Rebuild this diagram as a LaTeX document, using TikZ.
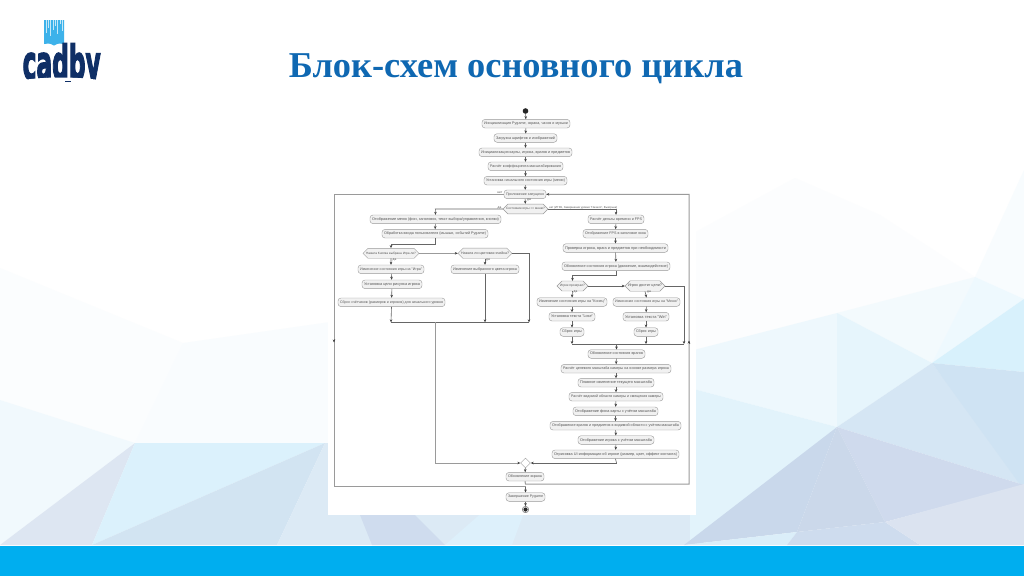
\documentclass[tikz,border=0pt]{standalone}
\usepackage{fontspec}
\usepackage{graphicx}
\setmainfont{Liberation Sans}
\newfontfamily\titlefont{Liberation Serif}
\newfontfamily\logofont[BoldFeatures={FakeBold=3.5}]{DejaVu Sans}
\usetikzlibrary{arrows.meta,shapes.geometric,shapes.misc}
\definecolor{bandblue}{HTML}{00AEEF}
\definecolor{titleblue}{HTML}{0F68B2}
\definecolor{logonavy}{HTML}{0F2F66}
\definecolor{logosky}{HTML}{3DB2EA}
\definecolor{boxfill}{HTML}{F1F1F1}
\definecolor{boxline}{HTML}{999999}
\definecolor{inktext}{HTML}{555555}
\definecolor{linkline}{HTML}{666666}
\definecolor{loopline}{HTML}{9A9A9A}
\tikzset{
  actbox/.style={draw=boxline,fill=boxfill,line width=.4pt,rounded corners=3pt,minimum height=8.6pt,inner sep=0pt,text=inktext},
  decbox/.style={draw=boxline,fill=boxfill,line width=.4pt,chamfered rectangle,chamfered rectangle xsep=2.6pt,chamfered rectangle ysep=3.5pt,minimum height=7pt,inner sep=0pt,text=inktext},
  mergedot/.style={draw=boxline,fill=white,line width=.4pt,diamond,minimum width=10pt,minimum height=10pt,inner sep=0pt},
  dotnode/.style={circle,fill=black!85,inner sep=0pt,minimum size=5.6pt},
  ringnode/.style={circle,draw=black!55,fill=white,line width=.5pt,inner sep=0pt,minimum size=6.4pt},
  arr/.style={draw=linkline,line width=.6pt,-{Stealth[length=3pt,width=2.6pt,color=black!75]}},
  bare/.style={draw=linkline,line width=.6pt},
  looparr/.style={draw=loopline,line width=1pt,-{Stealth[length=3pt,width=2.6pt,color=black!75]}},
  loopbare/.style={draw=loopline,line width=1pt},
  small/.style={inner sep=0pt,text=inktext,font=\fontsize{3.2}{3.2}\selectfont},
  poly/.style={draw=none}
}
% name, x1, x2, y, text
\newcommand{\actn}[5]{%
  \pgfmathsetmacro{\cxv}{(#2+#3)/2}\pgfmathsetmacro{\wv}{#3-#2}\pgfmathsetmacro{\twv}{#3-#2-4}%
  \node[actbox,minimum width=\wv pt] (#1) at (\cxv,#4) {\resizebox{\twv pt}{!}{\fontsize{4}{4}\selectfont #5}};}
\newcommand{\decn}[5]{%
  \pgfmathsetmacro{\cxv}{(#2+#3)/2}\pgfmathsetmacro{\wv}{#3-#2}\pgfmathsetmacro{\twv}{#3-#2-6}%
  \node[decbox,minimum width=\wv pt] (#1) at (\cxv,#4) {\resizebox{\twv pt}{!}{\fontsize{4}{4}\selectfont #5}};}
\begin{document}
\begin{tikzpicture}[x=1pt,y=-1pt]
\useasboundingbox (0,0) rectangle (1024,576);
\fill[white] (0,0) rectangle (1024,576);
% background polygons: left
\fill[poly,color={rgb,255:red,251;green,253;blue,254}] (0,268)--(183,343)--(135,443)--(0,400)--cycle;
\fill[poly,color={rgb,255:red,241;green,249;blue,253}] (0,400)--(135,443)--(0,545)--cycle;
\fill[poly,color={rgb,255:red,249;green,252;blue,254}] (183,343)--(330,322)--(328,443)--(135,443)--cycle;
\fill[poly,color={rgb,255:red,221;green,230;blue,242}] (135,443)--(92,545)--(0,545)--cycle;
\fill[poly,color={rgb,255:red,219;green,241;blue,252}] (135,443)--(325,443)--(92,545)--cycle;
\fill[poly,color={rgb,255:red,210;green,228;blue,242}] (325,443)--(92,545)--(277,545)--cycle;
\fill[poly,color={rgb,255:red,220;green,234;blue,245}] (325,443)--(330,443)--(330,545)--(277,545)--cycle;
% bottom middle
\fill[poly,color={rgb,255:red,220;green,234;blue,245}] (328,500)--(700,500)--(700,545)--(328,545)--cycle;
\fill[poly,color={rgb,255:red,207;green,220;blue,238}] (358,510)--(410,510)--(445,545)--(372,545)--cycle;
\fill[poly,color={rgb,255:red,221;green,240;blue,251}] (445,545)--(485,510)--(525,510)--(512,545)--cycle;
% right
\fill[poly,color={rgb,255:red,252;green,253;blue,254}] (690,235)--(795,178)--(880,215)--(975,277)--(837,313)--(690,351)--cycle;
\fill[poly,color={rgb,255:red,248;green,252;blue,254}] (975,277)--(1024,170)--(1024,299)--cycle;
\fill[poly,color={rgb,255:red,238;green,248;blue,253}] (690,351)--(837,313)--(837,427)--(690,388)--cycle;
\fill[poly,color={rgb,255:red,243;green,250;blue,253}] (837,313)--(975,277)--(932,363)--cycle;
\fill[poly,color={rgb,255:red,230;green,245;blue,252}] (837,313)--(932,363)--(837,427)--cycle;
\fill[poly,color={rgb,255:red,238;green,249;blue,254}] (975,277)--(1024,299)--(932,363)--cycle;
\fill[poly,color={rgb,255:red,216;green,241;blue,252}] (1024,299)--(1024,372)--(932,363)--cycle;
\fill[poly,color={rgb,255:red,226;green,243;blue,251}] (690,388)--(837,427)--(690,545)--cycle;
\fill[poly,color={rgb,255:red,213;green,230;blue,244}] (837,427)--(932,363)--(1024,485)--cycle;
\fill[poly,color={rgb,255:red,207;green,227;blue,243}] (932,363)--(1024,372)--(1024,490)--cycle;
\fill[poly,color={rgb,255:red,207;green,218;blue,237}] (837,427)--(1024,485)--(885,522)--cycle;
\fill[poly,color={rgb,255:red,203;green,216;blue,234}] (837,427)--(885,522)--(797,532)--cycle;
\fill[poly,color={rgb,255:red,201;green,216;blue,235}] (684,545)--(837,427)--(797,532)--cycle;
\fill[poly,color={rgb,255:red,219;green,238;blue,249}] (684,545)--(797,532)--(787,545)--cycle;
\fill[poly,color={rgb,255:red,206;green,220;blue,238}] (797,532)--(885,522)--(920,545)--(787,545)--cycle;
\fill[poly,color={rgb,255:red,219;green,227;blue,240}] (885,522)--(1024,484)--(1024,545)--(920,545)--cycle;
% band
\fill[bandblue] (0,545.5) rectangle (1024,576);
% white sheet
\fill[white] (328,100) rectangle (696,515);
% logo
\fill[logosky] (44,20) -- (64,20) -- (64,44) .. controls (58,43) and (56,44) .. (54,45.5) .. controls (52,44) and (50,43) .. (44,44) -- cycle;
\foreach \sx/\sl in {46/33,48.5/28,50.5/36,53/30,55/26,57.5/34,60/24,62/31}{\draw[white,opacity=.7,line width=.6pt] (\sx,20) -- (\sx,\sl);}
\node[inner sep=0pt,text=logonavy,anchor=base west] (logo) at (22.5,79.5) {\resizebox{78pt}{36pt}{\logofont\bfseries cadby}};
\fill[white] (20,80.5) .. controls (45,76.5) and (75,76.5) .. (103,80.5) -- (103,96) -- (20,96) -- cycle;
\fill[logonavy] (65,81.4) rectangle (71,82.4);
% title
\node[inner sep=0pt,text=titleblue,anchor=base] (title) at (516,77) {\resizebox{454pt}{!}{\titlefont\bfseries\fontsize{33}{33}\selectfont Блок-схем основного цикла}};
% flow: top
\node[dotnode] (start) at (525.5,111) {};
\actn{n1}{482}{570}{123.7}{Инициализация Pygame, экрана, часов и музыки}
\actn{n2}{494}{557}{138}{Загрузка шрифтов и изображений}
\actn{n3}{479}{572}{152.3}{Инициализация карты, игрока, врагов и предметов}
\actn{n4}{488}{563}{166.3}{Расчёт коэффициента масштабирования}
\actn{n5}{484}{567}{180.7}{Установка начального состояния игры (меню)}
\actn{loop}{504}{546}{194.3}{Приложение запущено}
\decn{d0}{503}{548}{209}{Состояние игры == меню?}
% left branch
\actn{l1}{370}{501}{219.3}{Отображение меню (фон, заголовок, текст выбора/управления, кнопки)}
\actn{l2}{382}{488}{233.7}{Обработка ввода пользователя (мышью, событий Pygame)}
\decn{dl1}{363}{419}{253.3}{Нажата Кнопка выбрана Игра ли?}
\decn{dl2}{458}{512}{253.3}{Нажата ли цветовая ячейка?}
\actn{l3}{358}{424}{269.3}{Изменение состояния игры на "Игра"}
\actn{l4}{362}{422}{284.3}{Установка цели рисунка игрока}
\actn{l5}{338}{445}{302.3}{Сброс счётчиков (размеров и игроков) для начального уровня}
\actn{l6}{451}{519}{269.3}{Изменение выбранного цвета игрока}
% right branch
\actn{r1}{588}{644}{219.3}{Расчёт дельты времени и FPS}
\actn{r2}{583}{648}{233.7}{Отображение FPS в заголовке окна}
\actn{r3}{563}{668}{248}{Проверка игрока, врага и предметов при необходимости}
\actn{r4}{562}{670}{266.3}{Обновление состояния игрока (движение, взаимодействие)}
\decn{dr1}{557}{588}{286}{Игрок проиграл?}
\decn{dr2}{625}{665}{286}{Игрок достиг цели?}
\actn{r5}{537}{607}{302}{Изменение состояния игры на "Конец"}
\actn{r6}{613}{680}{302}{Изменение состояния игры на "Меню"}
\actn{r7}{549}{595}{316.7}{Установка текста "Lose"}
\actn{r8}{623}{669}{316.7}{Установка текста "Win"}
\actn{r9}{560}{584}{332}{Сброс игры}
\actn{r10}{634}{658}{332}{Сброс игры}
\actn{r11}{588}{645}{354}{Обновление состояния врагов}
\actn{r12}{561}{671}{368.7}{Расчёт целевого масштаба камеры на основе размера игрока}
\actn{r13}{578}{654}{382.7}{Плавное изменение текущего масштаба}
\actn{r14}{569}{663}{396.7}{Расчёт видимой области камеры и смещения камеры}
\actn{r15}{573}{658}{411.3}{Отображение фона карты с учётом масштаба}
\actn{r16}{550}{681}{425.7}{Отображение врагов и предметов в видимой области с учётом масштаба}
\actn{r17}{578}{654}{440}{Отображение игрока с учётом масштаба}
\actn{r18}{552}{679}{454.3}{Отрисовка UI-информации об игроке (размер, цвет, эффект контакта)}
\node[mergedot] (mg) at (525.5,463) {};
\actn{n6}{506}{544}{476.7}{Обновление экрана}
\actn{n7}{506}{545}{497}{Завершение Pygame}
\node[ringnode] (stop) at (525.5,509.5) {};
\fill[black!85] (stop.center) circle (2.1pt);
% labels
\node[small,anchor=east] (t1) at (502.5,192.5) {нет};
\node[small,anchor=west] (t2) at (527,199.5) {да};
\node[small,anchor=east] (t3) at (501.5,208) {да};
\node[small,anchor=west] (t4) at (549,207.7) {\resizebox{68pt}{!}{\fontsize{3.2}{3.2}\selectfont нет (ИГРА, Завершение уровня "Начало", Выигрыш)}};
\node[small,anchor=west] (t5) at (392.5,259.5) {да};
\node[small,anchor=west] (t6) at (486,259.5) {да};
\node[small,anchor=west] (t7) at (573.5,291.5) {да};
\node[small,anchor=west] (t8) at (647,291.5) {да};
% coordinates
\coordinate (ca) at (435.3,209);
\coordinate (cb) at (616,209);
\coordinate (cl) at (391,244);
\coordinate (mL) at (391,322.3);
\coordinate (mM) at (485,322.3);
\coordinate (mR) at (529,322.3);
\coordinate (mC) at (435.3,322.3);
\coordinate (cr) at (572.5,275.7);
\coordinate (cr0) at (616,275.7);
\coordinate (sL) at (572,344);
\coordinate (sM) at (646,344);
\coordinate (sR) at (684,344);
\coordinate (sC) at (616.5,344);
\coordinate (cm) at (616.5,463);
\coordinate (bk0) at (525.5,484);
\coordinate (bk1) at (689,484);
\coordinate (bk2) at (689,194.3);
\coordinate (ex1) at (334,194.3);
\coordinate (ex2) at (334,486.7);
\coordinate (ex3) at (525.5,486.7);
\coordinate (lmA) at (334,339);
\coordinate (lmB) at (334,342.5);
\coordinate (rmA) at (689,344);
\coordinate (rmB) at (689,340.5);
% connectors: top
\draw[arr] (start) -- (n1);
\draw[arr] (n1) -- (n2);
\draw[arr] (n2) -- (n3);
\draw[arr] (n3) -- (n4);
\draw[arr] (n4) -- (n5);
\draw[arr] (n5) -- (loop);
\draw[arr] (loop) -- (d0);
% branches
\draw[arr] (d0.west) -- (ca) -- (l1.north);
\draw[arr] (d0.east) -- (cb) -- (r1.north);
\draw[arr] (l1) -- (l2);
\draw[arr] (l2.south) |- (cl) -- (dl1.north);
\draw[arr] (dl1) -- (dl2);
\draw[arr] (dl1) -- (l3);
\draw[arr] (l3) -- (l4);
\draw[arr] (l4) -- (l5);
\draw[arr] (l5.south) -- (mL);
\draw[arr] (dl2.south) -- (dl2.south |- l6.north);
\draw[arr] (l6.south) -- (mM);
\draw[arr] (dl2.east) -| (mR);
\draw[bare] (mL) -- (mR);
\draw[looparr] (mC) |- (mg.west);
\draw[arr] (r1) -- (r2);
\draw[arr] (r2) -- (r3);
\draw[arr] (r3) -- (r4);
\draw[bare] (r4.south) -- (cr0);
\draw[arr] (cr0) -- (cr) -- (dr1.north);
\draw[arr] (dr1.east) -- (dr2.west);
\draw[arr] (dr1.south) -- (r5.north);
\draw[arr] (dr2.south) -- (r6.north);
\draw[arr] (r5) -- (r7);
\draw[arr] (r6) -- (r8);
\draw[arr] (r7) -- (r9);
\draw[arr] (r8) -- (r10);
\draw[arr] (r9.south) -- (sL);
\draw[arr] (r10.south) -- (sM);
\draw[arr] (dr2.east) -| (sR);
\draw[bare] (sL) -- (sR);
\draw[arr] (sC) -- (r11.north);
\draw[arr] (r11) -- (r12);
\draw[arr] (r12) -- (r13);
\draw[arr] (r13) -- (r14);
\draw[arr] (r14) -- (r15);
\draw[arr] (r15) -- (r16);
\draw[arr] (r16) -- (r17);
\draw[arr] (r17) -- (r18);
\draw[bare] (r18.south) -- (cm);
\draw[arr] (cm) -- (mg.east);
\draw[arr] (mg) -- (n6);
% loop back and exit
\draw[looparr] (n6.south) -- (bk0) -- (bk1) -- (bk2) -- (loop.east);
\draw[loopbare] (loop.west) -- (ex1) -- (ex2) -- (ex3);
\draw[arr] (ex3) -- (n7.north);
\draw[arr] (n7) -- (stop);
\draw[arr] (lmA) -- (lmB);
\draw[arr] (rmA) -- (rmB);
\end{tikzpicture}
\end{document}
